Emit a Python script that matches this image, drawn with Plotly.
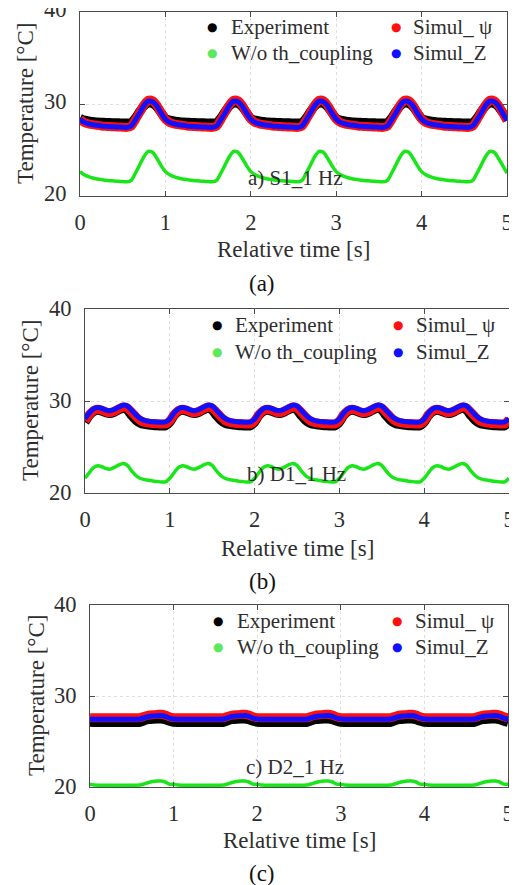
import numpy as np
import plotly.graph_objects as go

# The page body adds an 8 px margin, so the figure is sized to fill the rest of the 517x885 window.
PAGE_W, PAGE_H, BODY = 517, 885, 8
W, H = PAGE_W - BODY, PAGE_H - BODY

STEP = 0.05
N_PERIODS = 5

# Panel a) S1_1 Hz
a_exp = [28.45, 28.25, 28.15, 28.10, 28.05, 28.02, 28.00, 27.98, 27.96, 27.95,
         27.94, 27.93, 28.00, 28.50, 29.20, 29.80, 30.10, 30.05, 29.70, 29.05]
a_psi = [28.35, 28.00, 27.85, 27.75, 27.68, 27.62, 27.58, 27.55, 27.52, 27.50,
         27.48, 27.46, 27.60, 28.30, 29.10, 29.90, 30.40, 30.35, 29.85, 29.05]
a_z   = [28.35, 28.00, 27.85, 27.75, 27.68, 27.62, 27.58, 27.55, 27.52, 27.50,
         27.48, 27.46, 27.60, 28.30, 29.05, 29.85, 30.30, 30.25, 29.80, 29.00]
a_wo  = [22.65, 22.30, 22.10, 21.95, 21.85, 21.78, 21.72, 21.67, 21.63, 21.60,
         21.57, 21.54, 21.70, 22.50, 23.40, 24.30, 24.85, 24.75, 24.10, 23.30]
a_end = {"exp": 28.35, "psi": 28.2, "z": 28.2, "wo": 22.5}

# Panel b) D1_1 Hz
b_exp = [27.70, 28.40, 28.85, 29.00, 28.90, 28.70, 28.65, 28.80, 29.05, 29.20,
         29.00, 28.40, 27.90, 27.60, 27.45, 27.38, 27.33, 27.30, 27.28, 27.30]
b_psi = [27.85, 28.50, 28.95, 29.10, 29.00, 28.80, 28.75, 28.90, 29.15, 29.35,
         29.25, 28.80, 28.30, 27.90, 27.70, 27.60, 27.55, 27.52, 27.50, 27.50]
b_z   = [28.05, 28.70, 29.15, 29.30, 29.20, 29.00, 28.95, 29.10, 29.35, 29.55,
         29.45, 29.00, 28.50, 28.10, 27.90, 27.80, 27.75, 27.72, 27.70, 27.72]
b_wo  = [21.60, 22.20, 22.75, 22.95, 22.85, 22.65, 22.60, 22.80, 23.05, 23.20,
         23.00, 22.40, 21.90, 21.60, 21.45, 21.38, 21.30, 21.25, 21.20, 21.20]
b_end = {"exp": 27.7, "psi": 28.0, "z": 28.1, "wo": 21.6}

# Panel c) D2_1 Hz
c_exp = [27.12, 27.10, 27.10, 27.10, 27.10, 27.10, 27.10, 27.10, 27.10, 27.10,
         27.10, 27.10, 27.12, 27.28, 27.40, 27.45, 27.47, 27.48, 27.40, 27.22]
c_psi = [27.62, 27.60, 27.60, 27.60, 27.60, 27.60, 27.60, 27.60, 27.60, 27.60,
         27.60, 27.60, 27.62, 27.78, 27.90, 27.95, 27.98, 28.00, 27.90, 27.72]
c_z   = [27.47, 27.45, 27.45, 27.45, 27.45, 27.45, 27.45, 27.45, 27.45, 27.45,
         27.45, 27.45, 27.47, 27.63, 27.75, 27.80, 27.83, 27.85, 27.75, 27.57]
c_wo  = [20.30, 20.22, 20.20, 20.20, 20.20, 20.20, 20.20, 20.20, 20.20, 20.20,
         20.20, 20.20, 20.22, 20.35, 20.50, 20.60, 20.65, 20.65, 20.55, 20.32]
c_end = {"exp": 27.1, "psi": 27.6, "z": 27.45, "wo": 20.3}

panel_labels = ["a) S1_1 Hz", "b) D1_1 Hz", "c) D2_1 Hz"]
sub_captions = ["(a)", "(b)", "(c)"]
series_names = ["Experiment", "Simul_ ψ", "W/o th_coupling", "Simul_Z"]
x_ticks = [0, 1, 2, 3, 4, 5]
y_ticks = [20, 30, 40]
x_title = "Relative time [s]"
y_title = "Temperature [°C]"

panels = [
    (a_exp, a_psi, a_z, a_wo, a_end),
    (b_exp, b_psi, b_z, b_wo, b_end),
    (c_exp, c_psi, c_z, c_wo, c_end),
]

t = np.round(np.arange(0, N_PERIODS * 1.0 + 1e-9, STEP), 4)


def full(period, end):
    return np.concatenate([np.tile(period, N_PERIODS), [end]])


# ---------- layout geometry (window pixels) ----------
boxes = [(80, 507, 12, 196), (85, 509, 309, 493), (90, 508, 605, 787)]
ylabel_shift = [-3, -1, -1]
ytitle_x = [25, 30, 36]
xtitle_y = [250, 548, 840]
caption_y = [283, 581, 873]
label_pos = [(295, 178), (296, 474), (295, 767)]
legend_rows = [(27, 53), (325, 352), (621, 647)]
legend_cols = [((212, 229), (396, 411)), ((217, 233), (398, 414)), ((218, 235), (397, 413))]

FONT = "Liberation Serif, Times New Roman, serif"
TXT = "#2e2e2e"
AX = "#4a4a4a"

colors = {"exp": "#000000", "psi": "#ff1010", "z": "#1010ff", "wo": "#19e619"}
widths = {"exp": 9, "psi": 9, "z": 5, "wo": 3.5}

fig = go.Figure()
annotations = []


def px(x):
    return (x - BODY) / W


def py(y):
    return 1 - (y - BODY) / H


for i, (pe, pp, pz, pw, pend) in enumerate(panels):
    k = "" if i == 0 else str(i + 1)
    xa, ya = "x" + k, "y" + k
    for key, per in [("exp", pe), ("psi", pp), ("z", pz), ("wo", pw)]:
        fig.add_trace(go.Scatter(
            x=t, y=full(per, pend[key]), mode="lines", xaxis=xa, yaxis=ya,
            line=dict(color=colors[key], width=widths[key], shape="spline", smoothing=0.6),
            showlegend=False, hoverinfo="skip"))
    l, r, tp, b = boxes[i]
    axis_common = dict(showline=True, linecolor=AX, linewidth=1.2, mirror="ticks",
                       ticks="inside", ticklen=5, tickwidth=1, tickcolor=AX,
                       showgrid=True, gridcolor="#dedede", griddash="dot", gridwidth=1,
                       zeroline=False, automargin=False, ticklabeloverflow="allow",
                       tickfont=dict(family=FONT, size=22.5, color=TXT))
    fig.layout["xaxis" + k] = dict(domain=[px(l), px(r)], range=[0, 5], tickvals=x_ticks,
                                   anchor=ya, ticklabelstandoff=6, **axis_common)
    fig.layout["yaxis" + k] = dict(domain=[py(b), py(tp)], range=[20, 40], tickvals=y_ticks,
                                   anchor=xa, ticklabelstandoff=8,
                                   ticklabelshift=ylabel_shift[i], **axis_common)

    annotations.append(dict(x=px(ytitle_x[i]), y=py((tp + b) / 2), text=y_title, textangle=-90,
                            font=dict(family=FONT, size=23, color=TXT)))
    annotations.append(dict(x=px((l + r) / 2), y=py(xtitle_y[i]), text=x_title,
                            font=dict(family=FONT, size=23, color=TXT)))
    annotations.append(dict(x=px(262), y=py(caption_y[i]), text=sub_captions[i],
                            font=dict(family=FONT, size=23, color="#111111")))
    annotations.append(dict(x=px(label_pos[i][0]), y=py(label_pos[i][1]), text=panel_labels[i],
                            font=dict(family=FONT, size=21, color=TXT)))

    r1, r2 = legend_rows[i]
    (m1, t1), (m2, t2) = legend_cols[i]
    entries = [(m1, t1, r1, series_names[0], colors["exp"]),
               (m2, t2, r1, series_names[1], colors["psi"]),
               (m1, t1, r2, series_names[2], "#5ee85e"),
               (m2, t2, r2, series_names[3], colors["z"])]
    for mx, tx, ry, name, col in entries:
        annotations.append(dict(x=px(mx), y=py(ry), text="●", xanchor="center",
                                font=dict(family="DejaVu Sans", size=12, color=col)))
        annotations.append(dict(x=px(tx), y=py(ry), text=name, xanchor="left",
                                font=dict(family=FONT, size=21, color=TXT)))

for a in annotations:
    a.update(xref="paper", yref="paper", showarrow=False)
    a.setdefault("xanchor", "center")
    a.setdefault("yanchor", "middle")

fig.update_layout(template="none", width=W, height=H,
                  margin=dict(l=0, r=0, t=0, b=0, pad=0, autoexpand=False),
                  paper_bgcolor="white", plot_bgcolor="white",
                  font=dict(family=FONT, color=TXT),
                  annotations=annotations, showlegend=False)

fig.write_html("out.html")
